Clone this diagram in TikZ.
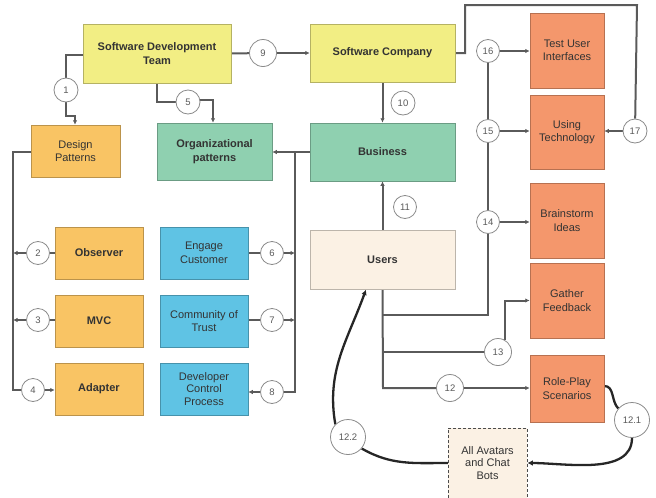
\documentclass[tikz,border=0pt]{standalone}
\usepackage{fontspec}
\setmainfont{Liberation Sans}
\usetikzlibrary{arrows.meta}
\pgfdeclarelayer{background}
\pgfsetlayers{background,main}
\definecolor{cyel}{HTML}{F2EE84}
\definecolor{corg}{HTML}{F9C464}
\definecolor{cgrn}{HTML}{8FD0B0}
\definecolor{cblu}{HTML}{5FC3E4}
\definecolor{csal}{HTML}{F4976C}
\definecolor{ccrm}{HTML}{FBF1E4}
\definecolor{cline}{HTML}{5A5A5A}
\definecolor{ctxt}{HTML}{333333}
\tikzset{
  box/.style={draw=#1!75!black, line width=0.5pt, fill=#1, align=center, text=ctxt, font=\fontsize{11}{13.5}\selectfont, inner sep=1pt},
  bbox/.style={box=#1, font=\fontsize{11}{14}\selectfont\bfseries},
  num/.style={circle, draw=cline!70, line width=0.8pt, fill=white, text=cline, font=\fontsize{9.5}{10}\selectfont, minimum size=#1, inner sep=0pt},
  num/.default=24pt,
  conn/.style={draw=cline, line width=2pt},
  arr/.style={conn, -{Latex[length=4.5pt,width=4.5pt]}},
  thick conn/.style={draw=black!85, line width=2.3pt},
  tarr/.style={thick conn, -{Latex[length=5.5pt,width=5.5pt]}},
}
\begin{document}
\begin{tikzpicture}[x=1pt,y=-1pt]
\useasboundingbox (0,0) rectangle (656,498);
% boxes
\node[bbox=cyel, minimum width=148pt, minimum height=59pt] (sdt) at (157,53.5) {Software Development\\Team};
\node[bbox=cyel, minimum width=145pt, minimum height=58pt] (sc) at (382.5,53) {Software Company};
\node[box=corg, minimum width=89pt, minimum height=52pt] (dp) at (75.5,151) {Design\\Patterns};
\node[bbox=cgrn, minimum width=115pt, minimum height=57pt] (op) at (214.5,151.5) {Organizational\\patterns};
\node[bbox=cgrn, minimum width=145pt, minimum height=58pt] (bus) at (382.5,152) {Business};
\node[bbox=ccrm, minimum width=145pt, minimum height=59pt] (users) at (382.5,259.5) {Users};
\node[bbox=corg, minimum width=88pt, minimum height=52pt] (obs) at (99,253) {Observer};
\node[bbox=corg, minimum width=88pt, minimum height=52pt] (mvc) at (99,321) {MVC};
\node[bbox=corg, minimum width=88pt, minimum height=52pt] (adp) at (99,389) {Adapter};
\node[box=cblu, minimum width=88pt, minimum height=52pt] (eng) at (204,253) {Engage\\Customer};
\node[box=cblu, minimum width=88pt, minimum height=52pt] (com) at (204,321) {Community of\\Trust};
\node[box=cblu, minimum width=88pt, minimum height=52pt, font=\fontsize{11}{12.5}\selectfont] (dcp) at (204,389) {Developer\\Control\\Process};
\node[box=csal, minimum width=74pt, minimum height=75pt] (tui) at (567,50.5) {Test User\\Interfaces};
\node[box=csal, minimum width=74pt, minimum height=74pt] (ut) at (567,132) {Using\\Technology};
\node[box=csal, minimum width=74pt, minimum height=75pt] (bi) at (567,220.5) {Brainstorm\\Ideas};
\node[box=csal, minimum width=74pt, minimum height=75pt] (gf) at (567,300.5) {Gather\\Feedback};
\node[box=csal, minimum width=74pt, minimum height=67pt] (rp) at (567,388.5) {Role-Play\\Scenarios};
\node[box=ccrm, draw=black!70, densely dashed, minimum width=79pt, minimum height=70pt, font=\fontsize{11}{12.5}\selectfont] (av) at (487.5,463) {All Avatars\\and Chat\\Bots};
% coordinates
\coordinate (p1a) at (66,55);
\coordinate (p1b) at (66,116);
\coordinate (p1c) at (75,116);
\coordinate (p5a) at (213,100);
\coordinate (top1) at (465,53);
\coordinate (top2) at (465,5);
\coordinate (top3) at (637,5);
\coordinate (vr1) at (488,315);
\coordinate (ul1) at (383,315);
\coordinate (ul2) at (383,352);
\coordinate (ul3) at (383,388);
\coordinate (lv1) at (13,152);
\coordinate (lv2) at (13,253);
\coordinate (lv3) at (13,320);
\coordinate (lv4) at (13,390);
\coordinate (rv1) at (295,152);
\coordinate (rv2) at (295,253);
\coordinate (rv3) at (295,320);
\coordinate (rv4) at (295,392);
% circles
\node[num] (c1) at (66,90) {1};
\node[num] (c5) at (188,102) {5};
\node[num=27pt] (c9) at (263,53) {9};
\node[num] (c10) at (403,103) {10};
\node[num=23pt] (c11) at (405,207) {11};
\node[num=23pt] (c16) at (488,51) {16};
\node[num=23pt] (c15) at (488,131) {15};
\node[num=23pt] (c14) at (488,222) {14};
\node[num] (c17) at (635,131) {17};
\node[num=27pt] (c13) at (498,352) {13};
\node[num=27pt] (c12) at (450,388) {12};
\node[num=35pt] (c121) at (632,420) {12.1};
\node[num=35pt] (c122) at (348,437) {12.2};
\node[num=23pt] (c2) at (38,253) {2};
\node[num=23pt] (c3) at (38,320) {3};
\node[num=23pt] (c4) at (33,390) {4};
\node[num=23pt] (c6) at (272,253) {6};
\node[num=23pt] (c7) at (272,320) {7};
\node[num=23pt] (c8) at (272,392) {8};
% connectors
\begin{pgfonlayer}{background}
\draw[conn] (sdt.west |- p1a) -- (p1a) -- (c1);
\draw[arr] (c1) -- (p1b) -- (p1c) -- (dp.north -| p1c);
\draw[conn] (sdt.south) |- (c5);
\draw[arr] (c5.east |- p5a) -- (p5a) -- (op.north -| p5a);
\draw[conn] (sdt.east) -- (c9);
\draw[arr] (c9) -- (sc.west);
\draw[arr] (sc.south) -- (bus.north);
\draw[arr] (users.north) -- (bus.south);
\draw[conn] (sc.east) -- (top1) -- (top2) -- (top3) -- (c17);
\draw[arr] (c17) -- (ut.east |- c17);
\draw[conn] (c16) -- (c15) -- (c14) -- (vr1) -- (ul1);
\draw[arr] (c16) -- (tui.west |- c16);
\draw[arr] (c15) -- (ut.west |- c15);
\draw[arr] (c14) -- (bi.west |- c14);
\draw[conn] (users.south) -- (ul3) -- (c12);
\draw[conn] (ul2) -- (c13);
\draw[arr] (c13.60) |- (gf.west);
\draw[arr] (c12) -- (rp.west |- c12);
% left group
\draw[conn] (dp.west |- lv1) -- (lv1) -- (lv4) -- (c4);
\draw[arr] (c4) -- (adp.west |- c4);
\draw[conn] (obs.west) -- (c2);
\draw[arr] (c2) -- (lv2);
\draw[conn] (mvc.west |- c3) -- (c3);
\draw[arr] (c3) -- (lv3);
% right group
\draw[arr] (bus.west) -- (op.east |- bus.west);
\draw[conn] (rv1) -- (rv4) -- (c8);
\draw[arr] (c8) -- (dcp.east |- c8);
\draw[conn] (eng.east) -- (c6);
\draw[arr] (c6) -- (rv2);
\draw[conn] (com.east |- c7) -- (c7);
\draw[arr] (c7) -- (rv3);
% thick curves
\draw[thick conn] (rp.east |- 0,386) to[out=0,in=135] (c121.140);
\draw[tarr] (c121.south) to[out=-90,in=0,looseness=0.9] (av.east);
\draw[thick conn] (av.west) to[out=180,in=-30] (c122.-40);
\draw[tarr] (c122.135) to[out=100,in=-110] (366,289.5);
\end{pgfonlayer}
\end{tikzpicture}
\end{document}
